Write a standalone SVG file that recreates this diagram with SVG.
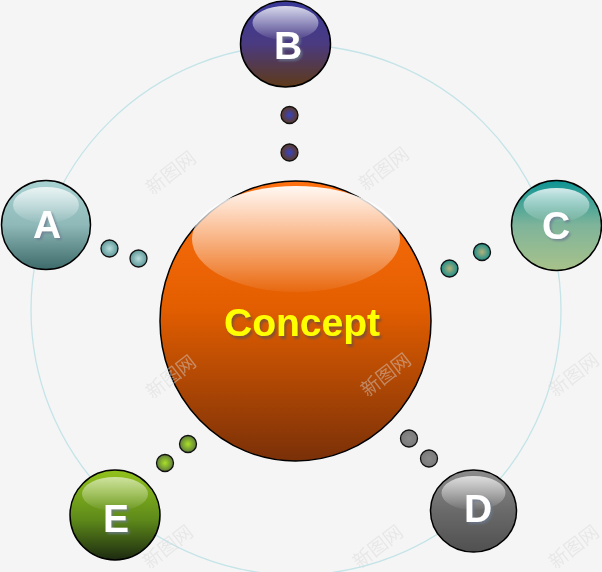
<svg xmlns="http://www.w3.org/2000/svg" width="602" height="572" viewBox="0 0 602 572">
<defs>
<style>
.stroke{stroke:#000;stroke-width:1.5}
.lbl{font-family:"Liberation Sans",Arial,sans-serif;font-weight:bold;font-size:39px;fill:#fff;text-anchor:middle;filter:url(#sh)}
.dot{stroke:#111;stroke-width:1.3}
.wm{font-family:"Noto Sans CJK SC","Noto Sans CJK JP",sans-serif;font-size:19px;fill:#d8d8d8;opacity:0.45;text-anchor:middle}
</style>
<filter id="sh" x="-20%" y="-20%" width="150%" height="150%">
<feDropShadow dx="2" dy="2" stdDeviation="0.8" flood-color="#6a7a90" flood-opacity="0.75"/>
</filter>
<filter id="shc" x="-10%" y="-20%" width="130%" height="150%">
<feDropShadow dx="2" dy="3" stdDeviation="1" flood-color="#6a5040" flood-opacity="0.7"/>
</filter>
<linearGradient id="gO" x1="0" y1="0" x2="0" y2="1">
<stop offset="0" stop-color="#ff7010"/><stop offset="0.45" stop-color="#e35e00"/><stop offset="1" stop-color="#7a3008"/>
</linearGradient>
<linearGradient id="hl" x1="0" y1="0" x2="0" y2="1">
<stop offset="0" stop-color="#fff" stop-opacity="0.95"/><stop offset="1" stop-color="#fff" stop-opacity="0.05"/>
</linearGradient>
<linearGradient id="gB" x1="0" y1="0" x2="0" y2="1">
<stop offset="0" stop-color="#3a3a9a"/><stop offset="0.5" stop-color="#4a3a80"/><stop offset="1" stop-color="#5e3a18"/>
</linearGradient>
<linearGradient id="gA" x1="0" y1="0" x2="0" y2="1">
<stop offset="0" stop-color="#a9d2d3"/><stop offset="0.5" stop-color="#8fb8b8"/><stop offset="1" stop-color="#3d6a6a"/>
</linearGradient>
<linearGradient id="gC" x1="0" y1="0" x2="0" y2="1">
<stop offset="0" stop-color="#0c9494"/><stop offset="0.5" stop-color="#7fb49a"/><stop offset="1" stop-color="#a8c28a"/>
</linearGradient>
<linearGradient id="gD" x1="0" y1="0" x2="0" y2="1">
<stop offset="0" stop-color="#8c8c8c"/><stop offset="0.5" stop-color="#6a6a6a"/><stop offset="1" stop-color="#505050"/>
</linearGradient>
<linearGradient id="gE" x1="0" y1="0" x2="0" y2="1">
<stop offset="0" stop-color="#92c21c"/><stop offset="0.55" stop-color="#5e8a1a"/><stop offset="1" stop-color="#1c2a10"/>
</linearGradient>
<radialGradient id="dB"><stop offset="0" stop-color="#3a44c0"/><stop offset="1" stop-color="#5e3a20"/></radialGradient>
<radialGradient id="dA"><stop offset="0" stop-color="#b8dcdc"/><stop offset="1" stop-color="#5e9898"/></radialGradient>
<radialGradient id="dC"><stop offset="0" stop-color="#b4b27c"/><stop offset="1" stop-color="#1a8c88"/></radialGradient>
<radialGradient id="dD"><stop offset="0" stop-color="#8a8a8a"/><stop offset="1" stop-color="#7a7a7a"/></radialGradient>
<radialGradient id="dE"><stop offset="0" stop-color="#a8e028"/><stop offset="1" stop-color="#5e7a3a"/></radialGradient>
</defs>
<rect width="602" height="572" fill="#f5f5f5"/>
<g id="connectors">
<circle cx="296" cy="310" r="265" fill="none" stroke="#c4e4e8" stroke-width="1.3"/>
<circle class="dot" cx="289.5" cy="115" r="8.5" fill="url(#dB)"/>
<circle class="dot" cx="289.5" cy="152.5" r="8.5" fill="url(#dB)"/>
<circle class="dot" cx="109.5" cy="248.5" r="8.5" fill="url(#dA)"/>
<circle class="dot" cx="138.5" cy="258.5" r="8.5" fill="url(#dA)"/>
<circle class="dot" cx="482" cy="252" r="8.5" fill="url(#dC)"/>
<circle class="dot" cx="449.5" cy="268.5" r="8.5" fill="url(#dC)"/>
<circle class="dot" cx="409" cy="438.5" r="8.5" fill="url(#dD)"/>
<circle class="dot" cx="429" cy="458.5" r="8.5" fill="url(#dD)"/>
<circle class="dot" cx="165" cy="463" r="8.5" fill="url(#dE)"/>
<circle class="dot" cx="188" cy="444" r="8.5" fill="url(#dE)"/>
</g>
<g id="concept">
<ellipse class="stroke" cx="295.5" cy="321" rx="135.5" ry="140" fill="url(#gO)"/>
<ellipse cx="296" cy="239" rx="104" ry="53" fill="url(#hl)"/>
<text x="302" y="336" font-family="Liberation Sans,Arial,sans-serif" font-weight="bold" font-size="39" fill="#ffff00" text-anchor="middle" filter="url(#shc)">Concept</text>
</g>
<g id="nodeB">
<ellipse class="stroke" cx="285.5" cy="44" rx="45" ry="43" fill="url(#gB)"/>
<ellipse cx="285.5" cy="23" rx="33" ry="17" fill="url(#hl)" opacity="0.85"/>
<text class="lbl" x="288" y="59">B</text>
</g>
<g id="nodeA">
<circle class="stroke" cx="46" cy="225" r="44.5" fill="url(#gA)"/>
<ellipse cx="46" cy="205" rx="33" ry="18" fill="url(#hl)" opacity="0.8"/>
<text class="lbl" x="47" y="238">A</text>
</g>
<g id="nodeC">
<circle class="stroke" cx="556.5" cy="225.5" r="45" fill="url(#gC)"/>
<ellipse cx="556.5" cy="205" rx="33" ry="17" fill="url(#hl)" opacity="0.85"/>
<text class="lbl" x="556" y="239">C</text>
</g>
<g id="nodeD">
<ellipse class="stroke" cx="473.5" cy="511" rx="43" ry="41" fill="url(#gD)"/>
<ellipse cx="473.5" cy="493" rx="32" ry="17" fill="url(#hl)" opacity="0.75"/>
<text class="lbl" x="478" y="522">D</text>
</g>
<g id="nodeE">
<circle class="stroke" cx="115" cy="515" r="45" fill="url(#gE)"/>
<ellipse cx="115" cy="494" rx="33" ry="17" fill="url(#hl)" opacity="0.6"/>
<text class="lbl" x="116" y="532">E</text>
</g>
<g id="watermarks">
<text class="wm" transform="translate(175,178) rotate(-38)">新图网</text>
<text class="wm" transform="translate(388,174) rotate(-38)">新图网</text>
<text class="wm" transform="translate(175,382) rotate(-38)">新图网</text>
<text class="wm" transform="translate(390,380) rotate(-38)">新图网</text>
<text class="wm" transform="translate(578,380) rotate(-38)">新图网</text>
<text class="wm" transform="translate(172,552) rotate(-38)">新图网</text>
<text class="wm" transform="translate(382,552) rotate(-38)">新图网</text>
<text class="wm" transform="translate(578,552) rotate(-38)">新图网</text>
</g>
</svg>
